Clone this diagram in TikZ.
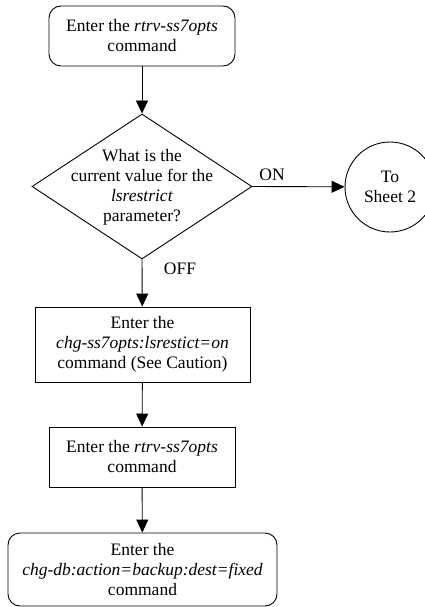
\documentclass[tikz,border=0pt]{standalone}
\usepackage{fontspec}
\setmainfont{Liberation Serif}
\usetikzlibrary{shapes.geometric,arrows.meta}
\begin{document}
\begin{tikzpicture}[x=1pt,y=-1pt,
  font=\fontsize{17.5}{20}\selectfont,
  line width=0.9pt,
  >={Triangle[length=13pt,width=12pt]},
  box/.style={draw, align=center, inner sep=0pt},
  rbox/.style={box, rounded corners=12pt},
  dia/.style={draw, diamond, inner sep=0pt, minimum width=220pt, minimum height=145pt},
  circ/.style={draw, circle, align=center, inner sep=0pt, minimum size=90pt},
  lbl/.style={inner sep=0pt}]
\useasboundingbox (0,0) rectangle (425,607);
\node[rbox, minimum width=186pt, minimum height=60pt] (a) at (142,36) {Enter the \textit{rtrv-ss7opts}\\command};
\node[dia] (q) at (142,186.5) {};
\node[align=center, inner sep=0pt] (qt) at (142,187) {What is the\\current value for the\\\textit{lsrestrict}\\parameter?};
\node[circ] (s2) at (390,187) {To\\Sheet 2};
\node[box, minimum width=215pt, minimum height=75pt] (b) at (142.5,344.5) {Enter the\\\textit{chg-ss7opts:lsrestict=on}\\command (See Caution)};
\node[box, minimum width=186pt, minimum height=60pt] (c) at (142,457) {Enter the \textit{rtrv-ss7opts}\\command};
\node[rbox, minimum width=269pt, minimum height=73pt] (d) at (142.5,569.5) {Enter the\\\textit{chg-db:action=backup:dest=fixed}\\command};
\node[lbl] (on) at (272,175) {ON};
\node[lbl] (off) at (180,269) {OFF};
\draw[->] (a) -- (q.north);
\draw[->] (q.east) -- (s2);
\draw[->] (q.south) -- (b);
\draw[->] (b) -- (c);
\draw[->] (c) -- (d);
\end{tikzpicture}
\end{document}
